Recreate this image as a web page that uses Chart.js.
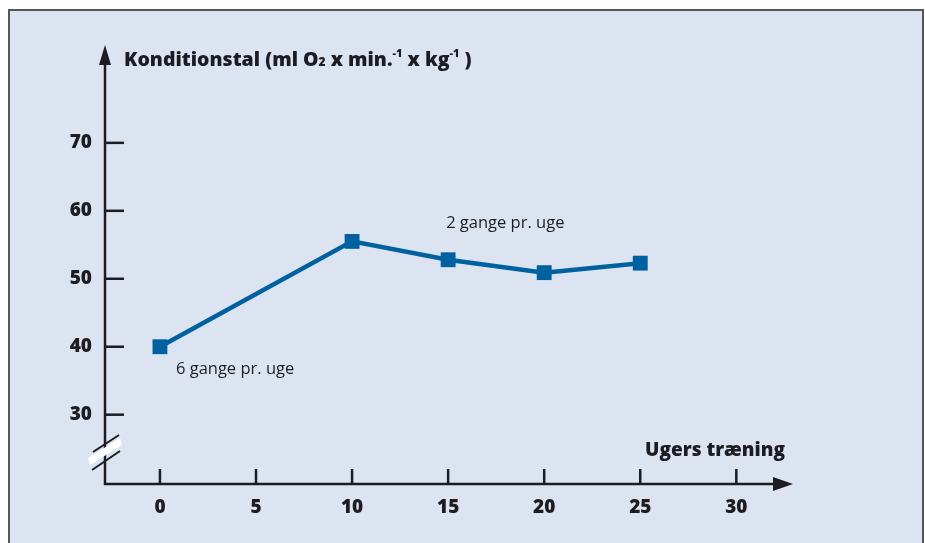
<!DOCTYPE html>
<html>
<head>
<meta charset="UTF-8">
<script src="https://cdn.jsdelivr.net/npm/chart.js@4/dist/chart.umd.min.js"></script>
<style>
  html, body { margin: 0; padding: 0; background: #fff; }
  #wrap { width: 925px; height: 543px; }
</style>
</head>
<body>
<div id="wrap"><canvas id="chart" width="925" height="543"></canvas></div>
<script>
// data
var weeks = [0, 10, 15, 20, 25];
var fitness = [40, 55.5, 52.8, 50.9, 52.3];
var xTicks = [0, 5, 10, 15, 20, 25, 30];
var yTicks = [30, 40, 50, 60, 70];
var notes = [
  { x: 0, y: 40, text: '6 gange pr. uge', dx: 16, dy: 27 },
  { x: 15, y: 52.8, text: '2 gange pr. uge', dx: -2, dy: -32 }
];

var FONT = '"Open Sans", "Noto Sans", sans-serif';
var INK = '#1c1c22';
var BLUE = '#0061a0';

// background, frame, axes with arrows, break mark and texts
var decor = {
  id: 'decor',
  beforeDraw: function(chart) {
    var c = chart.ctx;
    c.save();
    c.fillStyle = '#fff';
    c.fillRect(0, 0, chart.width, chart.height);
    c.fillStyle = '#dde4f1';
    c.fillRect(9, 10, 913, chart.height - 10);
    c.strokeStyle = '#55555c';
    c.lineWidth = 2;
    c.beginPath();
    c.moveTo(9, chart.height);
    c.lineTo(9, 10);
    c.lineTo(923, 10);
    c.lineTo(923, chart.height);
    c.stroke();
    c.restore();
  },
  beforeDatasetsDraw: function(chart) {
    var c = chart.ctx, a = chart.chartArea;
    var xs = chart.scales.x, ys = chart.scales.y;
    c.save();
    c.strokeStyle = INK;
    c.fillStyle = INK;
    c.lineWidth = 2.5;
    // axes
    c.beginPath();
    c.moveTo(a.left, a.top + 12);
    c.lineTo(a.left, a.bottom);
    c.lineTo(a.right - 12, a.bottom);
    c.stroke();
    // arrow heads
    c.beginPath();
    c.moveTo(a.left, a.top);
    c.lineTo(a.left - 6, a.top + 20);
    c.lineTo(a.left + 6, a.top + 20);
    c.closePath();
    c.fill();
    c.beginPath();
    c.moveTo(a.right, a.bottom);
    c.lineTo(a.right - 20, a.bottom - 7);
    c.lineTo(a.right - 20, a.bottom + 7);
    c.closePath();
    c.fill();
    // tick marks (inside)
    yTicks.forEach(function(v) {
      var y = ys.getPixelForValue(v);
      c.beginPath();
      c.moveTo(a.left, y);
      c.lineTo(a.left + 19, y);
      c.stroke();
    });
    xTicks.forEach(function(v) {
      var x = xs.getPixelForValue(v);
      c.beginPath();
      c.moveTo(x, a.bottom);
      c.lineTo(x, a.bottom - 15);
      c.stroke();
    });
    // axis break
    var bx = a.left, by = a.bottom - 38;
    c.fillStyle = '#fff';
    c.beginPath();
    c.moveTo(bx - 17, by + 12);
    c.lineTo(bx + 15, by - 8);
    c.lineTo(bx + 17, by - 1);
    c.lineTo(bx - 15, by + 19);
    c.closePath();
    c.fill();
    c.lineWidth = 2;
    c.beginPath();
    c.moveTo(bx - 12, by + 6);
    c.lineTo(bx + 14, by - 11);
    c.moveTo(bx - 13, by + 24);
    c.lineTo(bx + 15, by + 5);
    c.stroke();
    c.restore();
  },
  afterDraw: function(chart) {
    var c = chart.ctx;
    var xs = chart.scales.x, ys = chart.scales.y;
    c.save();
    c.fillStyle = INK;
    c.textBaseline = 'alphabetic';
    // y-axis title with sub/superscripts
    var parts = [
      ['Konditionstal (ml O', 0, 19.5],
      ['2', 0, 12],
      [' x min.', 0, 19.5],
      ['-1', -9, 11],
      [' x kg', 0, 19.5],
      ['-1', -9, 11],
      [' )', 0, 19.5]
    ];
    var tx = 124, ty = 66;
    parts.forEach(function(p) {
      c.font = '800 ' + p[2] + 'px ' + FONT;
      c.fillText(p[0], tx, ty + p[1]);
      tx += c.measureText(p[0]).width;
    });
    // x-axis title
    c.font = '800 19px ' + FONT;
    c.textAlign = 'right';
    c.fillText('Ugers træning', 785, 456);
    // notes
    c.font = '16.5px ' + FONT;
    c.textAlign = 'left';
    notes.forEach(function(n) {
      c.fillText(n.text, xs.getPixelForValue(n.x) + n.dx, ys.getPixelForValue(n.y) + n.dy);
    });
    c.restore();
  }
};

new Chart(document.getElementById('chart'), {
  type: 'line',
  data: {
    datasets: [{
      data: weeks.map(function(w, i) { return { x: w, y: fitness[i] }; }),
      borderColor: BLUE,
      backgroundColor: BLUE,
      borderWidth: 4.5,
      pointStyle: 'rect',
      pointRadius: 10.5,
      pointBorderWidth: 0,
      tension: 0,
      clip: false
    }]
  },
  options: {
    responsive: false,
    animation: false,
    events: [],
    layout: { padding: { left: 10, right: 132, top: 45, bottom: 0 } },
    plugins: { legend: { display: false }, tooltip: { enabled: false } },
    scales: {
      x: {
        type: 'linear',
        min: -2.86,
        max: 32.95,
        grid: { display: false, drawTicks: false },
        border: { display: false },
        afterFit: function(s) { s.height = 59; },
        afterBuildTicks: function(s) { s.ticks = xTicks.map(function(v) { return { value: v }; }); },
        ticks: { color: INK, padding: 12, font: { family: FONT, size: 19, weight: '800' } }
      },
      y: {
        min: 19.8,
        max: 84.4,
        grid: { display: false, drawTicks: false },
        border: { display: false },
        afterFit: function(s) { s.width = 95; },
        afterBuildTicks: function(s) { s.ticks = yTicks.map(function(v) { return { value: v }; }); },
        ticks: { color: INK, padding: 13, font: { family: FONT, size: 19, weight: '800' } }
      }
    }
  },
  plugins: [decor]
});
</script>
</body>
</html>
